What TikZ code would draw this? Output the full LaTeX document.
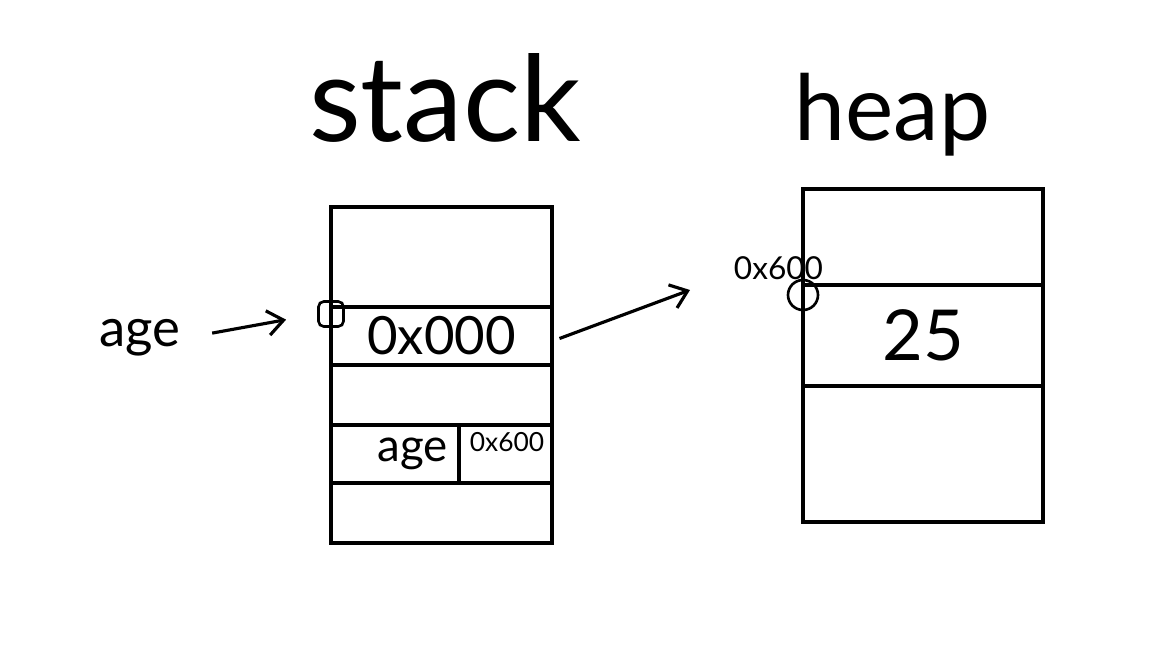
\documentclass[tikz,border=0pt]{standalone}
\usepackage{fontspec}
\setmainfont{Lato}
\usetikzlibrary{arrows.meta,positioning}

\begin{document}
\begin{tikzpicture}[line width=1.8pt,
  cell/.style={rectangle, draw, inner sep=0pt, outer sep=0pt},
  stackcell/.style={cell, minimum width=4.42cm},
  heapcell/.style={cell, minimum width=4.8cm},
  marker/.style={draw, line width=1.5pt, inner sep=0pt},
  big/.style={font=\fontsize{30}{32}\selectfont},
  small/.style={font=\fontsize{15}{16}\selectfont},
  >={Straight Barb[length=9pt,width=14pt]}]

\useasboundingbox (0,0) rectangle (23.04,-12.96);

% Left side: stack

\node[font=\fontsize{68}{68}\selectfont] (stacktitle) at (8.9,-1.95) {stack};

\node[stackcell, minimum height=2cm] (s1) at (8.83,-5.14) {};
\node[stackcell, minimum height=1.16cm, below=0pt of s1, font=\fontsize{30}{32}\selectfont] (s2) {0x000};
\node[stackcell, minimum height=1.2cm, below=0pt of s2] (s3) {};
\node[stackcell, minimum height=1.16cm, below=0pt of s3] (s4) {};
\node[stackcell, minimum height=1.2cm, below=0pt of s4] (s5) {};

\node[marker, rounded corners=3pt, minimum size=0.5cm] (smark) at (6.62,-6.28) {};

\node[big] (agelabel) at (2.8,-6.75) {age};
\draw[->, shorten <=14pt, shorten >=18pt] (agelabel.east) -- (smark.west);

% row with the name and the address
\coordinate (divtop) at (9.18,-8.5);
\draw (divtop) -- (divtop |- s4.south);
\node[font=\fontsize{26}{28}\selectfont, anchor=east] (agecell) at ([xshift=-2pt]divtop |- s4.center) {age};
\node[small, right=2pt of divtop, anchor=north west] (addrcell) {0x600};

\coordinate (arrowend) at (13.8,-5.8);
\draw[->] (s2.east) ++(0.15,-0.05) coordinate (arrowstart) (arrowstart) -- (arrowend);

% Right side: heap

\node[font=\fontsize{52}{52}\selectfont] (heaptitle) at (17.85,-2.3) {heap};

\node[heapcell, minimum height=1.92cm] (h1) at (18.46,-4.74) {};
\node[heapcell, minimum height=2.02cm, below=0pt of h1, font=\fontsize{40}{42}\selectfont] (h2) {25};
\node[heapcell, minimum height=2.72cm, below=0pt of h2] (h3) {};

\node[marker, circle, minimum size=0.6cm] (hmark) at (16.06,-5.9) {};
\node[font=\fontsize{18}{20}\selectfont] (heapaddr) at (15.57,-5.36) {0x600};

\end{tikzpicture}
\end{document}
